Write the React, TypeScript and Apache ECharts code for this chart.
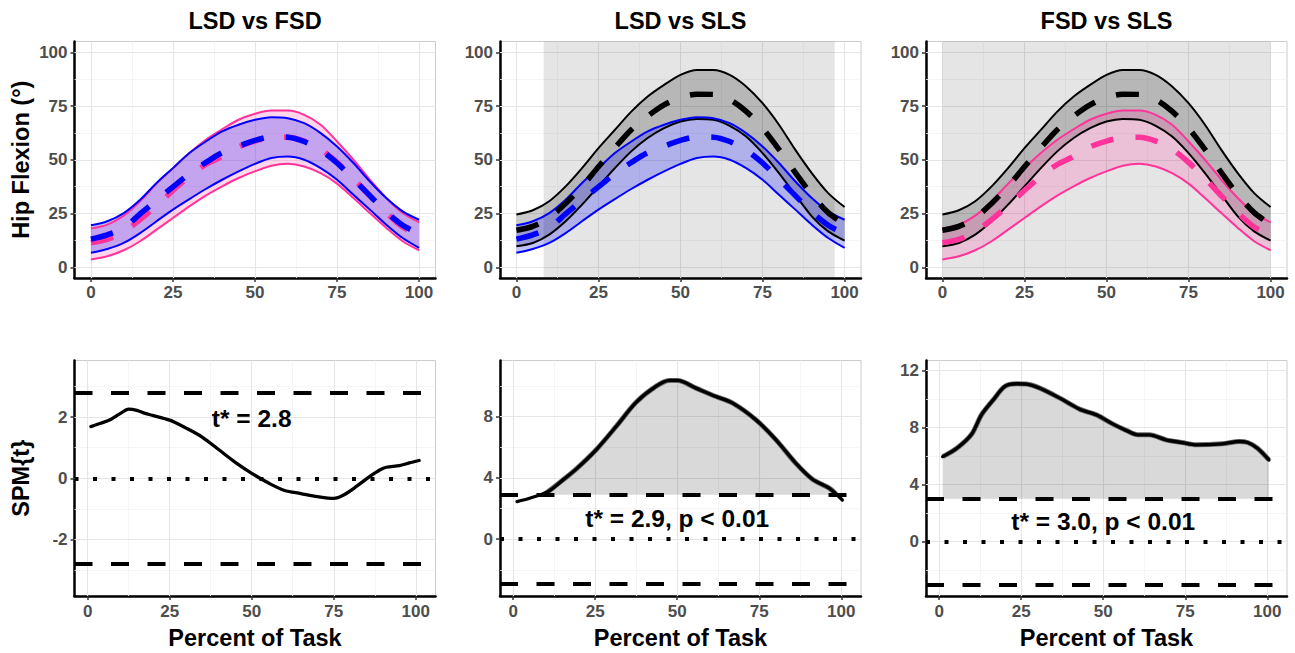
import React, { useEffect, useRef } from "react";
import * as echarts from "echarts";

const FONT = "'Liberation Sans', Arial, Helvetica, sans-serif";

// ---------- data ----------
const percent = [0, 5, 10, 15, 20, 25, 30, 35, 40, 45, 50, 55, 60, 65, 70, 75, 80, 85, 90, 95, 100];

const lsdUpper = [19.5, 21.4, 25.2, 31.4, 39.2, 46.1, 53.1, 58.5, 63.2, 66.3, 68.6, 69.8, 69.3, 67.0, 62.4, 56.2, 48.5, 39.9, 32.2, 26.0, 22.1];
const lsdMean = [13.1, 15.1, 18.3, 24.8, 31.2, 37.4, 43.5, 48.7, 53.3, 56.3, 59.0, 60.6, 60.5, 58.5, 54.5, 48.5, 41.0, 33.3, 25.7, 19.5, 15.6];
const lsdLower = [6.7, 8.5, 11.3, 15.9, 21.4, 26.8, 31.7, 36.4, 40.7, 44.6, 48.1, 50.8, 51.5, 50.0, 46.1, 40.7, 33.7, 26.8, 19.8, 13.6, 9.0];

const fsdUpper = [18.0, 19.8, 24.0, 30.7, 38.9, 46.1, 53.1, 59.3, 64.2, 68.6, 71.4, 72.9, 72.9, 70.9, 66.3, 58.5, 50.0, 40.7, 32.2, 25.2, 20.9];
const fsdMean = [11.4, 13.0, 16.4, 22.2, 28.7, 35.7, 42.3, 47.8, 51.6, 56.0, 58.7, 60.3, 60.5, 58.7, 54.9, 48.8, 41.3, 33.2, 25.3, 18.7, 14.8];
const fsdLower = [3.6, 5.1, 7.9, 12.1, 17.5, 22.9, 28.3, 33.3, 37.6, 41.5, 44.6, 47.2, 48.1, 46.9, 43.8, 38.9, 32.2, 25.2, 18.3, 12.1, 7.9];

const slsUpper = [24.5, 26.5, 30.7, 37.6, 46.1, 55.4, 63.9, 72.4, 79.4, 84.8, 89.5, 91.8, 91.8, 89.5, 84.1, 76.3, 66.3, 54.6, 43.8, 34.5, 28.0];
const slsMean = [17.2, 19.0, 23.0, 29.7, 37.6, 46.7, 55.6, 64.0, 70.3, 75.5, 79.0, 80.5, 80.4, 78.0, 72.5, 64.7, 54.8, 44.0, 33.8, 25.4, 20.0];
const slsLower = [9.8, 11.3, 15.2, 21.4, 29.1, 37.6, 46.1, 53.9, 60.1, 64.7, 67.8, 69.0, 68.6, 65.8, 60.8, 53.1, 43.8, 33.7, 23.7, 16.7, 12.4];

const spmLsdFsdX = [1, 4, 7, 10, 12.5, 15, 17.5, 20, 25, 30, 35, 40, 45, 50, 55, 60, 65, 70, 75, 78, 82, 86, 89, 91, 95, 98, 101];
const spmLsdFsdY = [1.69, 1.8, 1.92, 2.12, 2.26, 2.22, 2.12, 2.05, 1.9, 1.64, 1.34, 0.93, 0.52, 0.16, -0.15, -0.4, -0.5, -0.6, -0.66, -0.55, -0.26, 0.06, 0.27, 0.36, 0.41, 0.5, 0.58];

const spmLsdSlsX = [1.2, 5, 10.6, 15.2, 19.2, 25.3, 31.4, 37.4, 43.5, 47.6, 50.1, 55.7, 61.8, 66.9, 74, 80.1, 86.1, 91.2, 96.3, 100.3];
const spmLsdSlsY = [2.45, 2.67, 3.1, 3.87, 4.57, 5.83, 7.35, 8.91, 9.96, 10.35, 10.35, 9.85, 9.3, 8.87, 7.78, 6.48, 4.96, 3.91, 3.33, 2.56];

const spmFsdSlsX = [1.1, 5.4, 9.9, 12.9, 16.5, 20, 23.6, 26.6, 30.7, 36.8, 42.8, 47.9, 53, 57, 60.5, 64.1, 69.1, 74, 78.2, 86.3, 91.4, 94, 97, 100.5];
const spmFsdSlsY = [5.96, 6.55, 7.53, 8.89, 9.94, 10.88, 11.07, 11.05, 10.76, 10.06, 9.29, 8.89, 8.24, 7.8, 7.49, 7.49, 7.14, 6.95, 6.79, 6.86, 7.02, 6.95, 6.55, 5.73];

const titles = ["LSD vs FSD", "LSD vs SLS", "FSD vs SLS"];
const thresholds = [2.8, 2.9, 3.0];
const annotations = ["t* = 2.8", "t* = 2.9, p < 0.01", "t* = 3.0, p < 0.01"];
const annotationX = [50, 50, 50];
const annotationY = [1.95, 1.32, 1.4];
const clusters: (number[] | null)[] = [null, [9.3, 98.5], [1.1, 100.5]];
const sigRegions: (number[] | null)[] = [null, [8.3, 97], [0, 100]];

const xTicks = [0, 25, 50, 75, 100];
const xMinor = [12.5, 37.5, 62.5, 87.5];
const hipTicks = [0, 25, 50, 75, 100];
const hipMinor = [12.5, 37.5, 62.5, 87.5];
const spmTicks = [[-2, 0, 2], [0, 4, 8], [0, 4, 8, 12]];
const spmMinor = [[-3, -1, 1, 3], [-2, 2, 6, 10], [-2, 2, 6, 10]];
const spmRange = [[-3.85, 3.85], [-3.7, 11.65], [-3.81, 12.7]];

// ---------- styles ----------
const BLUE = "#0000ff";
const PINK = "#ff3399";
const BLACK = "#000000";
const BLUE_FILL = "rgba(0,0,255,0.23)";
const PINK_FILL = "rgba(255,51,153,0.2)";
const BLACK_FILL = "rgba(0,0,0,0.2)";

const gridLefts = [74.5, 500, 926];
const GW = 361;

function pairs(xs: number[], ys: number[]) {
  return xs.map((x, i) => [x, ys[i]]);
}

function lineSeries(gi: number, xs: number[], ys: number[], color: string, width: number, type: any, z = 3, smooth: any = false) {
  return {
    type: "line",
    xAxisIndex: gi,
    yAxisIndex: gi,
    data: pairs(xs, ys),
    symbol: "none",
    showSymbol: false,
    smooth,
    silent: true,
    z,
    lineStyle: { color, width, type, cap: "butt", join: "round" },
  };
}

function polyFill(gi: number, xs: number[], lo: number[], hi: number[], color: string, z = 3) {
  return {
    type: "custom",
    coordinateSystem: "cartesian2d",
    xAxisIndex: gi,
    yAxisIndex: gi,
    data: [[xs[0], lo[0]]],
    silent: true,
    z,
    renderItem: (_params: any, api: any) => {
      const pts: number[][] = [];
      for (let i = 0; i < xs.length; i++) pts.push(api.coord([xs[i], hi[i]]));
      for (let i = xs.length - 1; i >= 0; i--) pts.push(api.coord([xs[i], lo[i]]));
      return { type: "polygon", shape: { points: pts }, style: { fill: color, stroke: null } };
    },
  };
}

function gridLines(gi: number, xMaj: number[], xMin: number[], yMaj: number[], yMin: number[], x0: number, y0: number, sig: number[] | null) {
  const minorStyle = { color: "#f3f3f3", width: 0.8, type: "solid" };
  const s: any = {
    type: "line",
    xAxisIndex: gi,
    yAxisIndex: gi,
    data: [[x0, y0]],
    symbol: "none",
    showSymbol: false,
    silent: true,
    z: 1,
    lineStyle: { width: 0, opacity: 0 },
    markLine: {
      silent: true,
      symbol: ["none", "none"],
      z: 1,
      animation: false,
      label: { show: false },
      emphasis: { disabled: true },
      lineStyle: { color: "#e6e6e6", width: 1.1, type: "solid" },
      data: [
        ...xMin.map((v) => ({ xAxis: v, lineStyle: minorStyle })),
        ...yMin.map((v) => ({ yAxis: v, lineStyle: minorStyle })),
        ...xMaj.map((v) => ({ xAxis: v })),
        ...yMaj.map((v) => ({ yAxis: v })),
      ],
    },
  };
  if (sig) {
    s.markArea = {
      silent: true,
      z: 1.5,
      animation: false,
      emphasis: { disabled: true },
      itemStyle: { color: "rgba(0,0,0,0.1)" },
      data: [[{ xAxis: sig[0] }, { xAxis: sig[1] }]],
    };
  }
  return s;
}

function buildOption() {
  const grids: any[] = [];
  const xAxes: any[] = [];
  const yAxes: any[] = [];
  const series: any[] = [];
  const graphics: any[] = [];

  const tickLabel = { color: "#4d4d4d", fontWeight: "bold", fontSize: 17, fontFamily: FONT };
  const axisLine = { show: true, onZero: false, lineStyle: { color: "#000", width: 2.5 } };
  const axisTick = (vals: number[]) => ({ show: true, customValues: vals, length: 4, lineStyle: { color: "#333", width: 1.5 } });
  const nameStyle = { color: "#000", fontWeight: "bold", fontSize: 23.5, fontFamily: FONT };

  for (let p = 0; p < 3; p++) {
    grids.push({ left: gridLefts[p], top: 41.5, width: GW, height: 236.5, show: true, borderColor: "#cccccc", borderWidth: 1, backgroundColor: "transparent" });
  }
  for (let p = 0; p < 3; p++) {
    grids.push({ left: gridLefts[p], top: 360.5, width: GW, height: 235.5, show: true, borderColor: "#cccccc", borderWidth: 1, backgroundColor: "transparent" });
  }

  for (let p = 0; p < 3; p++) {
    xAxes.push({
      gridIndex: p, type: "value", min: -5, max: 105,
      axisLine, axisTick: axisTick(xTicks),
      axisLabel: { ...tickLabel, customValues: xTicks, margin: 6 },
      splitLine: { show: false },
    });
    yAxes.push({
      gridIndex: p, type: "value", min: -5, max: 105,
      axisLine, axisTick: axisTick(hipTicks),
      axisLabel: { ...tickLabel, customValues: hipTicks, margin: 7 },
      splitLine: { show: false },
      ...(p === 0 ? { name: "Hip Flexion (°)", nameLocation: "middle", nameGap: 42, nameRotate: 90, nameTextStyle: nameStyle } : {}),
    });
  }
  for (let p = 0; p < 3; p++) {
    xAxes.push({
      gridIndex: p + 3, type: "value", min: -4, max: 106,
      axisLine, axisTick: axisTick(xTicks),
      axisLabel: { ...tickLabel, customValues: xTicks, margin: 7 },
      splitLine: { show: false },
      name: "Percent of Task", nameLocation: "middle", nameGap: 30, nameTextStyle: nameStyle,
    });
    yAxes.push({
      gridIndex: p + 3, type: "value", min: spmRange[p][0], max: spmRange[p][1],
      axisLine, axisTick: axisTick(spmTicks[p]),
      axisLabel: { ...tickLabel, customValues: spmTicks[p], margin: 7 },
      splitLine: { show: false },
      ...(p === 0 ? { name: "SPM{t}", nameLocation: "middle", nameGap: 42, nameRotate: 90, nameTextStyle: nameStyle } : {}),
    });
  }

  // ---- top panels ----
  const groups: any = {
    lsd: { up: lsdUpper, mean: lsdMean, lo: lsdLower, color: BLUE, fill: BLUE_FILL },
    fsd: { up: fsdUpper, mean: fsdMean, lo: fsdLower, color: PINK, fill: PINK_FILL },
    sls: { up: slsUpper, mean: slsMean, lo: slsLower, color: BLACK, fill: BLACK_FILL },
  };
  const pairsTop = [["fsd", "lsd"], ["sls", "lsd"], ["sls", "fsd"]];
  const SM = 0.3;
  for (let p = 0; p < 3; p++) {
    series.push(gridLines(p, xTicks, xMinor, hipTicks, hipMinor, 0, 0, sigRegions[p]));
    const [a, b] = pairsTop[p];
    const A = groups[a];
    const B = groups[b];
    series.push(polyFill(p, percent, A.lo, A.up, A.fill));
    series.push(polyFill(p, percent, B.lo, B.up, B.fill));
    series.push(lineSeries(p, percent, A.up, A.color, 2, "solid", 3, SM));
    series.push(lineSeries(p, percent, A.lo, A.color, 2, "solid", 3, SM));
    series.push(lineSeries(p, percent, B.up, B.color, 2, "solid", 3, SM));
    series.push(lineSeries(p, percent, B.lo, B.color, 2, "solid", 3, SM));
    series.push(lineSeries(p, percent, A.mean, A.color, 5.5, [23, 22], 3, SM));
    series.push(lineSeries(p, percent, B.mean, B.color, 5.5, [23, 22], 3, SM));
    graphics.push({
      type: "text",
      x: gridLefts[p] + GW / 2,
      y: 21,
      style: { text: titles[p], fontSize: 23.5, fontWeight: "bold", fontFamily: FONT, fill: "#000", align: "center", verticalAlign: "middle" },
    });
  }

  // ---- bottom panels ----
  const spmX = [spmLsdFsdX, spmLsdSlsX, spmFsdSlsX];
  const spmY = [spmLsdFsdY, spmLsdSlsY, spmFsdSlsY];
  for (let p = 0; p < 3; p++) {
    const gi = p + 3;
    series.push(gridLines(gi, xTicks, xMinor, spmTicks[p], spmMinor[p], 50, 0, null));
    const thr = thresholds[p];
    const c = clusters[p];
    if (c) {
      const fx: number[] = [];
      const fy: number[] = [];
      spmX[p].forEach((x, i) => {
        if (x >= c[0] && x <= c[1]) { fx.push(x); fy.push(spmY[p][i]); }
      });
      if (fx[0] > c[0]) { fx.unshift(c[0]); fy.unshift(thr); }
      if (fx[fx.length - 1] < c[1]) { fx.push(c[1]); fy.push(thr); }
      const base = fx.map(() => thr);
      series.push(polyFill(gi, fx, base, fy, "rgba(0,0,0,0.15)", 3));
      const edge: any = lineSeries(gi, fx, fy, "#6a6a6a", 5, "solid", 3, 0.3);
      series.push(edge);
    }
    const spmLine: any = lineSeries(gi, spmX[p], spmY[p], "#000", 3.3, "solid", 4, 0.3);
    spmLine.lineStyle.cap = "round";
    spmLine.markLine = {
      silent: true,
      symbol: ["none", "none"],
      z: 4,
      animation: false,
      label: { show: false },
      emphasis: { disabled: true },
      lineStyle: { color: "#000", width: 4, type: [18, 18.5] },
      data: [
        { yAxis: thr },
        { yAxis: -thr },
        { yAxis: 0, lineStyle: { color: "#000", width: 4, type: [4, 14.5] } },
      ],
    };
    series.push(spmLine);
    series.push({
      type: "scatter",
      xAxisIndex: gi,
      yAxisIndex: gi,
      data: [[annotationX[p], annotationY[p]]],
      symbolSize: 1,
      silent: true,
      z: 6,
      itemStyle: { color: "rgba(0,0,0,0)", opacity: 1 },
      label: {
        show: true,
        position: "inside",
        formatter: () => annotations[p],
        fontSize: 24.5,
        fontWeight: "bold",
        fontFamily: FONT,
        color: "#000",
        opacity: 1,
        textBorderWidth: 0,
      },
    });
  }

  return {
    animation: false,
    backgroundColor: "#ffffff",
    grid: grids,
    xAxis: xAxes,
    yAxis: yAxes,
    series,
    graphic: graphics,
  };
}

export default function App() {
  const ref = useRef<HTMLDivElement>(null);
  useEffect(() => {
    if (!ref.current) return;
    const chart = echarts.init(ref.current, undefined, { renderer: "svg" });
    chart.setOption(buildOption() as any);
    return () => chart.dispose();
  }, []);
  return <div ref={ref} style={{ position: "absolute", left: 0, top: 0, width: 1295, height: 653 }} />;
}
